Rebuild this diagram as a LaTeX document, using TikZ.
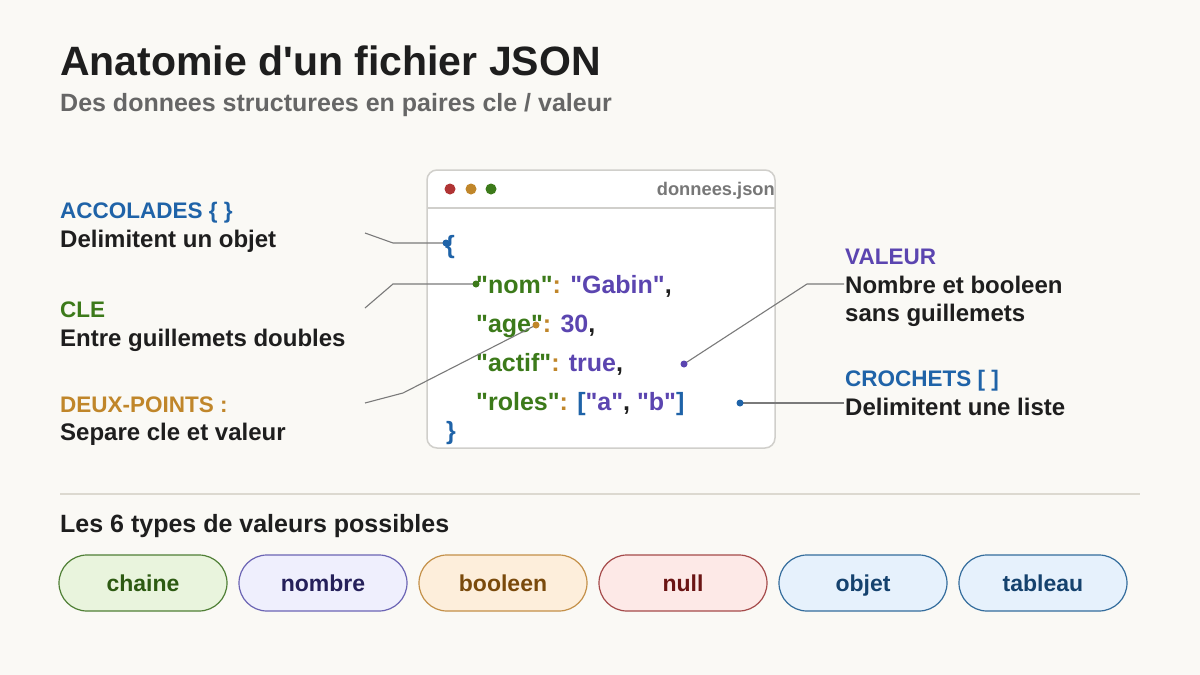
\documentclass[tikz,border=0pt]{standalone}
\usepackage{fontspec}
\newfontfamily\lib{Liberation Sans}
\definecolor{bg}{HTML}{FAF9F5}
\definecolor{ink}{HTML}{1E1E1E}
\definecolor{sub}{HTML}{666666}
\definecolor{blu}{HTML}{1F63A8}
\definecolor{grn}{HTML}{3C7A1A}
\definecolor{org}{HTML}{C0862A}
\definecolor{pur}{HTML}{5B45B0}
\definecolor{redd}{HTML}{B03434}
\definecolor{conn}{HTML}{7A7A7A}
\definecolor{winb}{HTML}{D0CFCB}
\definecolor{sepc}{HTML}{DCD9D0}
\definecolor{fname}{HTML}{777777}
\definecolor{gD}{HTML}{4F7F35}\definecolor{gF}{HTML}{E9F4DD}\definecolor{gT}{HTML}{2D5A12}
\definecolor{nD}{HTML}{6B64B4}\definecolor{nF}{HTML}{EFEFFD}\definecolor{nT}{HTML}{25205A}
\definecolor{bD}{HTML}{C49048}\definecolor{bF}{HTML}{FDEEDB}\definecolor{bT}{HTML}{7A4A0C}
\definecolor{rD}{HTML}{A54A4A}\definecolor{rF}{HTML}{FDE9E7}\definecolor{rT}{HTML}{6B1515}
\definecolor{oD}{HTML}{336C9C}\definecolor{oF}{HTML}{E6F1FC}\definecolor{oT}{HTML}{15426E}
\tikzset{
  txt/.style={anchor=base west, inner sep=0pt, font=\lib\bfseries\fontsize{24}{28}\selectfont, text=ink},
  head/.style={anchor=base west, inner sep=0pt, font=\lib\bfseries\fontsize{22.5}{26}\selectfont},
  code/.style={anchor=base west, inner sep=0pt, font=\lib\bfseries\fontsize{25}{29}\selectfont, text=ink},
  cline/.style={draw=conn, line width=1.1pt},
  dotn/.style={circle, inner sep=0pt, minimum size=7pt},
  pill/.style={rounded corners=28pt, minimum width=168pt, minimum height=56pt, line width=1.2pt,
     font=\lib\bfseries\fontsize{23}{27}\selectfont, text height=16.5pt, text depth=0pt, inner sep=0pt}
}
\begin{document}
\begin{tikzpicture}[x=1pt,y=-1pt]
\fill[bg] (0,0) rectangle (1200,675);
\useasboundingbox (0,0) rectangle (1200,675);

% title
\node[anchor=base west, inner sep=0pt, font=\lib\bfseries\fontsize{41}{46}\selectfont, text=ink] (title) at (60,75) {Anatomie d'un fichier JSON};
\node[anchor=base west, inner sep=0pt, font=\lib\bfseries\fontsize{25}{29}\selectfont, text=sub] (subtitle) at (60,111) {Des donnees structurees en paires cle / valeur};

% window
\draw[draw=winb, fill=white, line width=1.5pt, rounded corners=10pt] (427,170) rectangle (775,448);
\draw[draw=winb, line width=1.5pt] (427,208) -- (775,208);
\fill[redd] (450,189) circle (5.5);
\fill[org] (471,189) circle (5.5);
\fill[grn] (491,189) circle (5.5);
\node[anchor=base east, inner sep=0pt, font=\lib\bfseries\fontsize{18.3}{22}\selectfont, text=fname] (fn) at (775,195) {donnees.json};

% code
\node[code, text=blu] (ob) at (445,253) {\{};
\node[code] (l1) at (476,293) {\textcolor{grn}{"nom"}\textcolor{org}{:} \textcolor{pur}{"Gabin"},};
\node[code] (l2) at (476,332) {\textcolor{grn}{"age"}\textcolor{org}{:} \textcolor{pur}{30},};
\node[code] (l3) at (476,371) {\textcolor{grn}{"actif"}\textcolor{org}{:} \textcolor{pur}{true},};
\node[code] (l4) at (476,410) {\textcolor{grn}{"roles"}\textcolor{org}{:} \textcolor{blu}{[}\textcolor{pur}{"a"}, \textcolor{pur}{"b"}\textcolor{blu}{]}};
\node[code, text=blu] (cb) at (446,439) {\}};

% left labels
\node[head, text=blu] (hA) at (60,218) {ACCOLADES \{ \}};
\node[txt] (tA) at (60,247) {Delimitent un objet};
\node[head, text=grn] (hC) at (60,317) {CLE};
\node[txt] (tC) at (60,346) {Entre guillemets doubles};
\node[head, text=org] (hD) at (60,412) {DEUX-POINTS :};
\node[txt] (tD) at (60,440) {Separe cle et valeur};

% right labels
\node[head, text=pur] (hV) at (845,264) {VALEUR};
\node[txt] (tV1) at (845,293) {Nombre et booleen};
\node[txt] (tV2) at (845,321) {sans guillemets};
\node[head, text=blu] (hR) at (845,386) {CROCHETS [ ]};
\node[txt] (tR) at (845,415) {Delimitent une liste};

% connector points
\coordinate (a0) at (365,233); \coordinate (a1) at (393,243);
\coordinate (c0) at (365,308); \coordinate (c1) at (393,284);
\coordinate (p0) at (365,403); \coordinate (p1) at (403,393);
\coordinate (v0) at (844,284); \coordinate (v1) at (807,284);
\coordinate (r0) at (844,403);
\coordinate (dA) at (446,243);
\coordinate (dC) at (476,284);
\coordinate (dD) at (536,325);
\coordinate (dV) at (684,364);
\coordinate (dR) at (740,403);
\draw[cline] (a0) -- (a1) -- (dA);
\draw[cline] (c0) -- (c1) -- (dC);
\draw[cline] (p0) -- (p1) -- (dD);
\draw[cline] (v0) -- (v1) -- (dV);
\draw[cline] (r0) -- (dR);
\node[dotn, fill=blu] (nA) at (dA) {};
\node[dotn, fill=grn] (nC) at (dC) {};
\node[dotn, fill=org] (nD) at (dD) {};
\node[dotn, fill=pur] (nV) at (dV) {};
\node[dotn, fill=blu] (nR) at (dR) {};

% separator
\draw[draw=sepc, line width=1.2pt] (60,494) -- (1140,494);
\node[anchor=base west, inner sep=0pt, font=\lib\bfseries\fontsize{25}{29}\selectfont, text=ink] (types) at (60,532) {Les 6 types de valeurs possibles};

% pills
\node[pill, draw=gD, fill=gF, text=gT] (p1n) at (143,583) {chaine};
\node[pill, draw=nD, fill=nF, text=nT] (p2n) at (323,583) {nombre};
\node[pill, draw=bD, fill=bF, text=bT] (p3n) at (503,583) {booleen};
\node[pill, draw=rD, fill=rF, text=rT] (p4n) at (683,583) {null};
\node[pill, draw=oD, fill=oF, text=oT] (p5n) at (863,583) {objet};
\node[pill, draw=oD, fill=oF, text=oT] (p6n) at (1043,583) {tableau};
\end{tikzpicture}
\end{document}
